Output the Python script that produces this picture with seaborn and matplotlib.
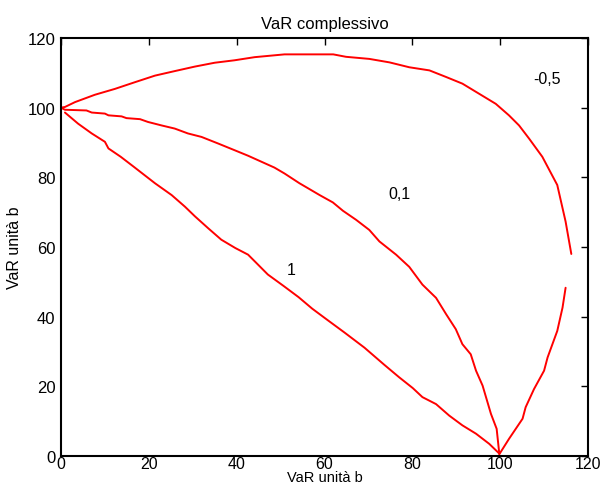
import matplotlib
matplotlib.use("Agg")
import matplotlib.pyplot as plt
import seaborn as sns
import pandas as pd
import numpy as np

# Curve rho = -0.5 (upper arc), then the lower branch back to (100, 0)
x_m05_a = [0, 0.9, 3.2, 7.7, 12.3, 16.8, 21.4, 25.9, 30.5, 35, 39.5, 44.1, 50.9, 56, 62, 64.9,
           70.2, 74.8, 79.3, 83.9, 87.7, 91.4, 95.2, 99, 102, 104.3, 106.6, 109.6, 113,
           114.9, 116.2]
y_m05_a = [100, 100.2, 101.6, 103.7, 105.4, 107.3, 109.2, 110.5, 111.8, 112.9, 113.6, 114.5,
           115.3, 115.3, 115.3, 114.6, 114, 113, 111.6, 110.7, 108.8, 106.9, 104, 101.1, 97.8,
           94.9, 91.1, 85.9, 77.8, 67.3, 58]
x_m05_b = [99.8, 102, 105.1, 105.8, 107.7, 110, 110.8, 113, 114.2, 114.9]
y_m05_b = [0.5, 4.9, 10.7, 14, 19.2, 24.5, 28.3, 35.9, 42.6, 48.3]

# Curve rho = 0.1
x_01 = [0, 0.9, 5.8, 7, 10, 10.8, 13.8, 14.9, 18, 19.8, 22.9, 25.9, 28.9, 32, 35.8, 39.5,
        42.6, 45.6, 48.6, 50.9, 54.3, 56.2, 58.9, 61.9, 64.2, 67.2, 70.2, 72.5, 76.3, 79.3,
        82.3, 85.4, 87.7, 89.9, 91.4, 93.3, 94.5, 96, 97.9, 99.2, 99.8]
y_01 = [100, 99.4, 99.2, 98.6, 98.3, 97.8, 97.5, 97, 96.7, 95.9, 94.9, 94, 92.6, 91.6, 89.7,
        87.8, 86.2, 84.5, 82.8, 81.1, 78.3, 76.9, 74.9, 72.8, 70.4, 67.8, 64.9, 61.6, 57.8,
        54.3, 49.2, 45.4, 40.7, 36.4, 32.1, 29.2, 24.5, 20.2, 12.1, 7.8, 0.7]

# Curve rho = 1
x_1 = [0.9, 3.9, 7, 10, 10.8, 13.6, 16.6, 21.4, 25.2, 28.2, 30.5, 33.5, 36.5, 39.7, 42.6,
       44.5, 47.1, 50.7, 54.1, 57.2, 60.4, 64.6, 69.1, 73.6, 77, 80.1, 82.3, 85.4, 88.4,
       91.4, 94.5, 97.5, 99.8]
y_1 = [98.6, 95.4, 92.6, 90.2, 88.3, 85.9, 83, 78.3, 74.9, 71.6, 68.8, 65.4, 62.1, 59.7,
       57.8, 55.4, 52.1, 48.8, 45.6, 42.3, 39.3, 35.4, 31.1, 26.2, 22.6, 19.5, 16.9, 14.9,
       11.6, 8.8, 6.4, 3.5, 0.7]

labels = ["-0,5", "0,1", "1"]
label_x = [110.7, 77, 52.5]
label_y = [108.3, 75.4, 53.4]

xticks = [0, 20, 40, 60, 80, 100, 120]
yticks = [0, 20, 40, 60, 80, 100, 120]

frames = []
for seg, (xs, ys) in enumerate([(x_m05_a, y_m05_a), (x_m05_b, y_m05_b), (x_01, y_01), (x_1, y_1)]):
    frames.append(pd.DataFrame({"x": xs, "y": ys, "seg": seg}))
df = pd.concat(frames, ignore_index=True)

sns.set_style("white")
plt.rcParams["font.family"] = ["Liberation Sans", "DejaVu Sans"]
plt.rcParams["text.color"] = "black"
plt.rcParams["axes.labelcolor"] = "black"

fig = plt.figure(figsize=(6.02, 4.85), dpi=100)
ax = fig.add_axes([61 / 602, 28 / 485, 527 / 602, 418 / 485])

sns.lineplot(data=df, x="x", y="y", units="seg", estimator=None, sort=False,
             color="#ff0000", linewidth=1.4, ax=ax, legend=False)

for t, lx, ly in zip(labels, label_x, label_y):
    ax.text(lx, ly, t, ha="center", va="center", fontsize=11.5, color="black")

ax.set_xlim(0, 120)
ax.set_ylim(0, 120)
ax.set_xticks(xticks)
ax.set_yticks(yticks)
ax.tick_params(direction="in", length=5, width=1, top=True, right=True,
               labelsize=12, colors="black")
ax.tick_params(axis="x", labeltop=False, pad=0, labelsize=11.5)
ax.tick_params(axis="y", labelright=False, pad=4)
for s in ax.spines.values():
    s.set_visible(True)
    s.set_color("black")
    s.set_linewidth(1.5)

ax.set_title("VaR complessivo", fontsize=12, pad=7, color="black")
ax.set_xlabel("VaR unità b", fontsize=10.5, labelpad=-1, color="black")
ax.set_ylabel("VaR unità b", fontsize=11.5, labelpad=4, color="black")

fig.savefig("out.png", dpi=100)
